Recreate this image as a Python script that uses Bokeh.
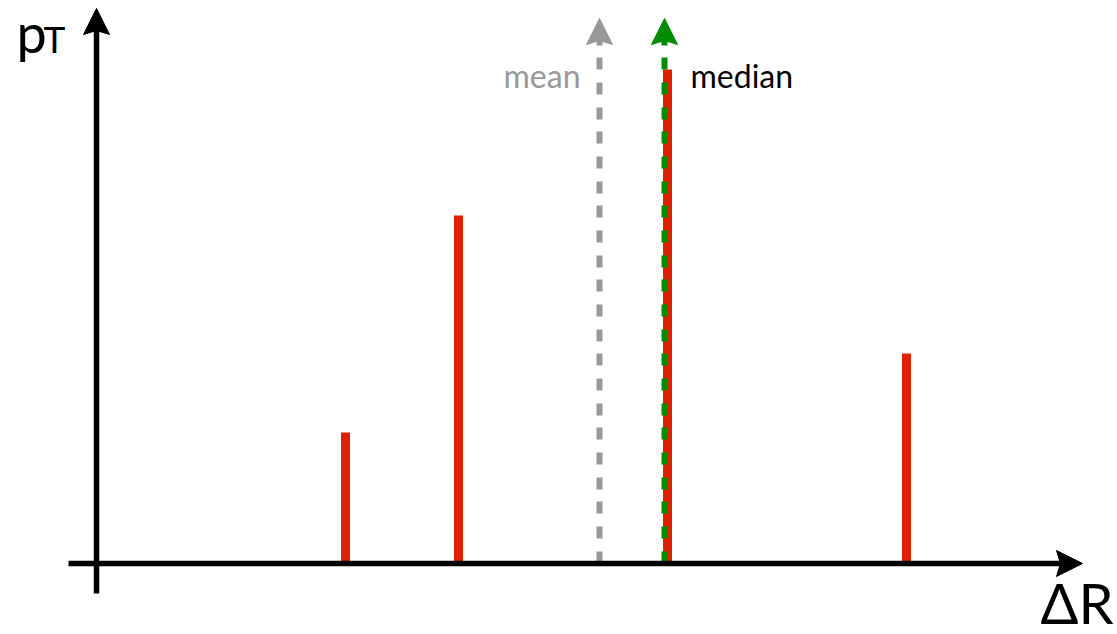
from bokeh.plotting import figure
from bokeh.models import Range1d
from bokeh.core.properties import value
from bokeh.embed import file_html
from bokeh.resources import INLINE

# ---- data ----
delta_r = [0.249, 0.362, 0.571, 0.810]      # ΔR of each particle
p_t = [1.31, 3.48, 4.94, 2.10]              # pT of each particle
mean_dr = 0.503
median_dr = 0.568
labels = ["mean", "median"]
y_label = ["p", "T"]
x_label = "\u0394R"

# ---- layout ----
W, H = 1117, 634
x0, x1 = -0.096, 1.021
y0, y1 = -0.71, 5.63
SX = W / (x1 - x0)
SY = H / (y1 - y0)


def px(n):
    return n / SX


def py(n):
    return n / SY


FONT = value("Lato")
RED = "#dd2200"
GRAY = "#999999"
GREEN = "#008c00"
LW = 5.5
BL = 0.37  # baseline compensation (fraction of font size)

p = figure(width=W, height=H, x_range=Range1d(x0, x1), y_range=Range1d(y0, y1),
           output_backend="svg", toolbar_location=None, min_border=0)
p.axis.visible = False
p.grid.visible = False
p.outline_line_color = None
p.background_fill_color = "white"
p.border_fill_color = "white"


def head_up(x, ytip, color):
    xs = [x, x + px(13), x, x - px(13)]
    ys = [ytip, ytip - py(26), ytip - py(22), ytip - py(26)]
    p.patch(xs, ys, fill_color=color, line_color=color, line_width=1)


def head_right(xtip, y, color):
    xs = [xtip, xtip - px(26), xtip - px(22), xtip - px(26)]
    ys = [y, y + py(13), y, y - py(13)]
    p.patch(xs, ys, fill_color=color, line_color=color, line_width=1)


def label(x, y, txt, size, color, align):
    p.text(x=[x], y=[y + py(BL * size)], text=[txt], text_font=FONT, text_font_size=f"{size}px",
           text_color=color, text_align=align, text_baseline="alphabetic")


# bars
p.vbar(x=delta_r, top=p_t, bottom=0, width=px(9), fill_color=RED, line_color=None)

# mean / median markers
marker_top = max(p_t) + py(51)
dash = "12 13 12 13 12 12"
p.line([mean_dr, mean_dr], [0, marker_top - py(20)], line_color=GRAY, line_width=6, line_dash=dash)
head_up(mean_dr, marker_top, GRAY)
p.line([median_dr, median_dr], [0, marker_top - py(20)], line_color=GREEN, line_width=6, line_dash=dash)
head_up(median_dr, marker_top, GREEN)

label_y = marker_top - py(69)
label(mean_dr - px(19), label_y, labels[0], 32, GRAY, "right")
label(median_dr + px(26), label_y, labels[1], 32, "black", "left")

# axes with arrows
x_axis_start, x_axis_end = -0.028, 0.986
y_axis_start, y_axis_end = -0.30, 5.55
p.line([x_axis_start, x_axis_end - px(20)], [0, 0], line_color="black", line_width=LW)
head_right(x_axis_end, 0, "black")
p.line([0, 0], [y_axis_start, y_axis_end - py(20)], line_color="black", line_width=LW)
head_up(0, y_axis_end, "black")

# axis titles
label(-px(80), y_axis_end - py(44), y_label[0], 54, "black", "left")
label(-px(53), y_axis_end - py(44), y_label[1], 37, "black", "left")
label(x1 - px(4), y0 + py(11), x_label, 56, "black", "right")

open("out.html", "w").write(file_html(p, INLINE))
